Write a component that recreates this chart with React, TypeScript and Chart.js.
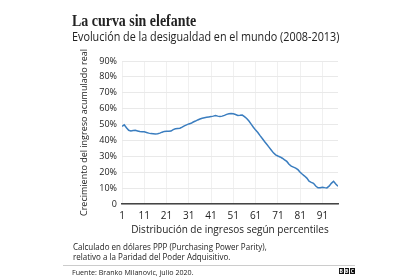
import React, { useEffect, useRef } from "react";
import { Chart, registerables } from "chart.js";

Chart.register(...registerables);

// Percentiles 1..98 of the global income distribution
const percentiles: number[] = Array.from({ length: 98 }, (_, i) => i + 1);

// Cumulative real income growth (%) per percentile, 2008-2013
const growth: number[] = [
  48.9, 49.8, 48.0, 46.4, 46.0, 46.2, 46.4, 46.0, 45.6, 45.5,
  45.4, 45.0, 44.6, 44.3, 44.2, 44.1, 44.2, 44.6, 45.2, 45.7,
  45.8, 45.8, 45.9, 46.8, 47.3, 47.5, 47.7, 48.4, 49.2, 49.8,
  50.4, 50.8, 51.6, 52.2, 52.9, 53.5, 54.0, 54.3, 54.6, 54.8,
  55.0, 55.3, 55.7, 55.3, 55.1, 55.3, 55.8, 56.4, 56.8, 56.9,
  56.8, 56.3, 55.7, 55.8, 56.0, 55.0, 53.8, 52.2, 50.3, 48.3,
  46.5, 45.0, 43.0, 41.2, 39.3, 37.6, 35.8, 34.0, 32.2, 30.9,
  30.2, 29.6, 28.8, 27.8, 26.8, 25.0, 23.8, 23.2, 22.6, 21.6,
  20.0, 18.7, 17.6, 16.3, 14.3, 13.6, 13.0, 11.3, 10.2, 10.2,
  10.6, 10.3, 10.1, 11.2, 13.0, 14.3, 12.6, 11.2,
];

const xTicks: number[] = [1, 11, 21, 31, 41, 51, 61, 71, 81, 91];
const yTicks: number[] = [0, 10, 20, 30, 40, 50, 60, 70, 80, 90];

const SANS = "'Open Sans', 'Noto Sans', sans-serif";
const TEXT = "#222222";

export default function App() {
  const canvasRef = useRef<HTMLCanvasElement | null>(null);

  useEffect(() => {
    document.body.style.margin = "0";
    const canvas = canvasRef.current;
    if (!canvas) return;
    const chart = new Chart(canvas, {
      type: "line",
      data: {
        datasets: [
          {
            data: percentiles.map((p, i) => ({ x: p, y: growth[i] })),
            borderColor: "#3a7dbf",
            borderWidth: 1.5,
            pointRadius: 0,
            tension: 0,
            fill: false,
          },
        ],
      },
      options: {
        animation: false,
        responsive: false,
        devicePixelRatio: 1,
        layout: { padding: { left: 75, right: 82, top: 61, bottom: 44 } },
        plugins: { legend: { display: false }, tooltip: { enabled: false } },
        scales: {
          x: {
            type: "linear",
            min: 1,
            max: 98,
            afterBuildTicks: (axis: any) => {
              axis.ticks = xTicks.map((v) => ({ value: v }));
            },
            afterFit: (axis: any) => {
              axis.height = 32;
            },
            grid: { color: "#f0f0f0", drawTicks: false, lineWidth: 1 },
            border: { display: true, color: "#444444", width: 1.5 },
            ticks: {
              padding: 6,
              color: TEXT,
              font: { family: SANS, size: 10 },
              maxRotation: 0,
            },
            title: {
              display: true,
              text: "Distribución de ingresos según percentiles",
              color: TEXT,
              font: { family: SANS, size: 10 },
              padding: { top: 0, bottom: 0 },
            },
          },
          y: {
            type: "linear",
            min: 0,
            max: 90,
            afterBuildTicks: (axis: any) => {
              axis.ticks = yTicks.map((v) => ({ value: v }));
            },
            afterFit: (axis: any) => {
              axis.width = 47;
            },
            grid: { color: "#e9e9e9", drawTicks: false, lineWidth: 1 },
            border: { display: false },
            ticks: {
              padding: 5,
              color: TEXT,
              font: { family: SANS, size: 9 },
              callback: (v: any) => (Number(v) === 0 ? "0" : `${v}%`),
            },
            title: {
              display: true,
              text: "Crecimiento del ingreso acumulado real",
              color: TEXT,
              font: { family: SANS, size: 9 },
              padding: { top: 4, bottom: 0 },
            },
          },
        },
      },
    });
    return () => chart.destroy();
  }, []);

  const abs = (top: number, left: number, extra: React.CSSProperties): React.CSSProperties => ({
    position: "absolute",
    top,
    left,
    lineHeight: 1,
    whiteSpace: "nowrap",
    color: TEXT,
    transformOrigin: "0 0",
    ...extra,
  });

  return (
    <div style={{ position: "relative", width: 420, height: 280, background: "#fff", overflow: "hidden" }}>
      <canvas ref={canvasRef} width={420} height={280} style={{ position: "absolute", left: 0, top: 0 }} />
      <div
        style={abs(12, 72, {
          fontFamily: "'Liberation Serif', serif",
          fontWeight: 700,
          fontSize: 17,
          transform: "scaleX(0.82)",
        })}
      >
        La curva sin elefante
      </div>
      <div style={abs(31, 72, { fontFamily: SANS, fontSize: 12, transform: "scaleX(0.9)" })}>
        Evolución de la desigualdad en el mundo (2008-2013)
      </div>
      <div style={abs(241.5, 73, { fontFamily: SANS, fontSize: 9, lineHeight: "10px", transform: "scaleX(0.89)" })}>
        Calculado en dólares PPP (Purchasing Power Parity),
        <br />
        relativo a la Paridad del Poder Adquisitivo.
      </div>
      <div style={{ position: "absolute", left: 63, top: 265, width: 292, height: 1, background: "#cccccc" }} />
      <div style={abs(268.5, 72, { fontFamily: SANS, fontSize: 7.5, transform: "scaleX(0.95)" })}>
        Fuente: Branko Milanovic, julio 2020.
      </div>
      <div style={{ position: "absolute", left: 339, top: 268, display: "flex", gap: 1 }}>
        {["B", "B", "C"].map((ch, i) => (
          <div
            key={i}
            style={{
              width: 4.5,
              height: 6,
              background: "#111",
              color: "#fff",
              fontFamily: SANS,
              fontWeight: 700,
              fontSize: 5,
              lineHeight: "6px",
              textAlign: "center",
            }}
          >
            {ch}
          </div>
        ))}
      </div>
    </div>
  );
}
